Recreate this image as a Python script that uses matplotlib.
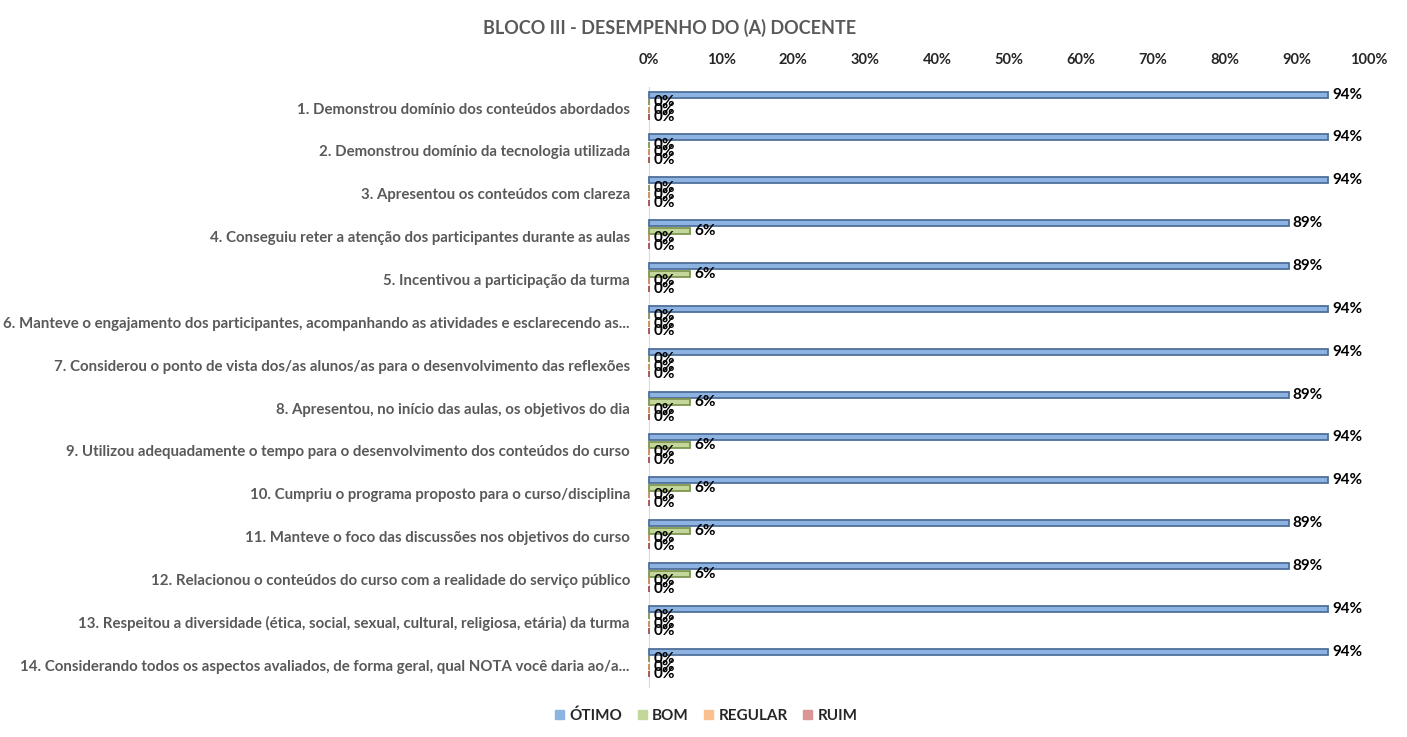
import matplotlib.pyplot as plt

plt.rcParams['font.family'] = ['Lato', 'DejaVu Sans']

categories = [
    '1. Demonstrou domínio dos conteúdos abordados',
    '2. Demonstrou domínio da tecnologia utilizada',
    '3. Apresentou os conteúdos com clareza',
    '4. Conseguiu reter a atenção dos participantes durante as aulas',
    '5. Incentivou a participação da turma',
    '6. Manteve o engajamento dos participantes, acompanhando as atividades e esclarecendo as...',
    '7. Considerou o ponto de vista dos/as alunos/as para o desenvolvimento das reflexões',
    '8. Apresentou, no início das aulas, os objetivos do dia',
    '9. Utilizou adequadamente o tempo para o desenvolvimento dos conteúdos do curso',
    '10. Cumpriu o programa proposto para o curso/disciplina',
    '11. Manteve o foco das discussões nos objetivos do curso',
    '12. Relacionou o conteúdos do curso com a realidade do serviço público',
    '13. Respeitou a diversidade (ética, social, sexual, cultural, religiosa, etária) da turma',
    '14. Considerando todos os aspectos avaliados, de forma geral, qual NOTA você daria ao/a...',
]

otimo = [94.4, 94.4, 94.4, 88.9, 88.9, 94.4, 94.4, 88.9, 94.4, 94.4, 88.9, 88.9, 94.4, 94.4]
bom = [0, 0, 0, 5.6, 5.6, 0, 0, 5.6, 5.6, 5.6, 5.6, 5.6, 0, 0]
regular = [0] * 14
ruim = [0] * 14

series = [
    ('ÓTIMO', otimo, '#8DB3E2', '#4F6F9A'),
    ('BOM', bom, '#C4D79B', '#7E9650'),
    ('REGULAR', regular, '#FAC08F', '#C98A55'),
    ('RUIM', ruim, '#DA9694', '#A0504E'),
]

fig = plt.figure(figsize=(14.07, 7.37), dpi=100)
ax = fig.add_axes([0.4615, 0.0684, 0.511, 0.8141])

step = 0.175
bar_h = 0.14
for k, (name, vals, fc, ec) in enumerate(series):
    ys = [i + (k - 1.5) * step - 0.05 for i in range(len(categories))]
    ax.barh(ys, [v / 100 for v in vals], height=bar_h, color=fc, edgecolor=ec,
            linewidth=1.3, label=name, zorder=3, clip_on=False)
    for y, v in zip(ys, vals):
        ax.text(v / 100 + 0.006, y, f'{round(v)}%', va='center', ha='left',
                fontsize=11, fontweight='bold', color='black')

ax.set_ylim(len(categories) - 0.5, -0.5)
ax.set_xlim(0, 1)
ax.set_yticks(range(len(categories)))
ax.set_yticklabels(categories, fontsize=10.8, fontweight='bold', color='#595959')
ax.set_xticks([i / 10 for i in range(11)])
ax.set_xticklabels([f'{i * 10}%' for i in range(11)], fontsize=10.5,
                   fontweight='bold', color='#262626')
ax.xaxis.tick_top()
ax.tick_params(length=0)
ax.tick_params(axis='x', pad=14)
ax.tick_params(axis='y', pad=14)
for s in ['top', 'right', 'bottom']:
    ax.spines[s].set_visible(False)
ax.spines['left'].set_color('#D9D9D9')
ax.spines['left'].set_zorder(1)

fig.text(0.476, 0.962, 'BLOCO III - DESEMPENHO DO (A) DOCENTE', ha='center', va='center',
         fontsize=13, fontweight='bold', color='#595959')

labels = [s[0] for s in series]
handles = [plt.Rectangle((0, 0), 1, 1, color=s[2]) for s in series]
fig.legend(handles, labels, loc='center', bbox_to_anchor=(0.502, 0.029), ncol=4,
           frameon=False, handlelength=0.6, handleheight=0.6, handletextpad=0.35,
           columnspacing=1.0, prop={'family': 'Lato', 'size': 11, 'weight': 'bold'},
           labelcolor='#262626')

fig.savefig('out.png', dpi=100)
